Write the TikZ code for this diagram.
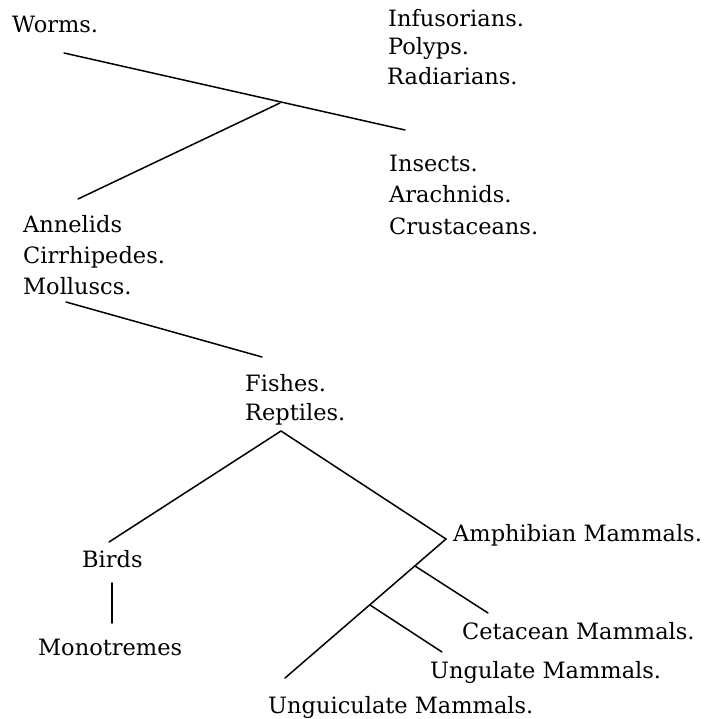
\documentclass[tikz,border=0pt]{standalone}
\usepackage{fontspec}
\setmainfont{DejaVu Serif}
\tikzstyle{taxon}=[
	inner sep=0pt,
	anchor=base west,
	font=\fontsize{22.5}{28}\selectfont
]
\tikzstyle{affinity}=[
	line width=1.5pt,
	line cap=round
]

\begin{document}
\begin{tikzpicture}[x=1pt,y=-1pt]
\useasboundingbox (0,0) rectangle (707,719);
% invertebrates
\node [taxon] (Worms) at (12,33) {Worms.};
\node [taxon] (Infusorians) at (388,27) {Infusorians.};
\node [taxon] (Polyps) at (388,55) {Polyps.};
\node [taxon] (Radiarians) at (387,85) {Radiarians.};
\node [taxon] (Insects) at (389,172) {Insects.};
\node [taxon] (Arachnids) at (389,203) {Arachnids.};
\node [taxon] (Crustaceans) at (389,234) {Crustaceans.};
\node [taxon] (Annelids) at (23,233) {Annelids};
\node [taxon] (Cirrhipedes) at (23,263) {Cirrhipedes.};
\node [taxon] (Molluscs) at (23,294) {Molluscs.};
% vertebrates
\node [taxon] (Fishes) at (245,391) {Fishes.};
\node [taxon] (Reptiles) at (245,420) {Reptiles.};
\node [taxon] (Birds) at (82,567) {Birds};
\node [taxon] (Monotremes) at (38,655) {Monotremes};
\node [taxon] (Amphibian) at (453,541) {Amphibian Mammals.};
\node [taxon] (Cetacean) at (462,639) {Cetacean Mammals.};
\node [taxon] (Ungulate) at (430,678) {Ungulate Mammals.};
\node [taxon] (Unguiculate) at (268,713) {Unguiculate Mammals.};

% line ends
\coordinate (WormsEnd) at (64,53);
\coordinate (InsectsEnd) at (405,130);
\coordinate (WormsFork) at (280,103);
\coordinate (AnnelidsEnd) at (78,199);
\coordinate (MolluscsEnd) at (66,302);
\coordinate (FishesEnd) at (262,357);
\coordinate (ReptilesFork) at (281,431);
\coordinate (BirdsEnd) at (109,542);
\coordinate (MammalsFork) at (446,539);
\coordinate (UnguiculateEnd) at (285,678);
\coordinate (CetaceanFork) at (415,566);
\coordinate (CetaceanEnd) at (488,613);
\coordinate (UngulateFork) at (370,605);
\coordinate (UngulateEnd) at (442,652);
\coordinate (BirdsFoot) at (112,583);
\coordinate (MonotremesHead) at (112,623);

\draw [affinity] (WormsEnd) -- (InsectsEnd);
\draw [affinity] (AnnelidsEnd) -- (WormsFork);
\draw [affinity] (MolluscsEnd) -- (FishesEnd);
\draw [affinity] (BirdsEnd) -- (ReptilesFork) -- (MammalsFork) -- (UnguiculateEnd);
\draw [affinity] (CetaceanFork) -- (CetaceanEnd);
\draw [affinity] (UngulateFork) -- (UngulateEnd);
\draw [affinity] (BirdsFoot) -- (MonotremesHead);
\end{tikzpicture}
\end{document}
